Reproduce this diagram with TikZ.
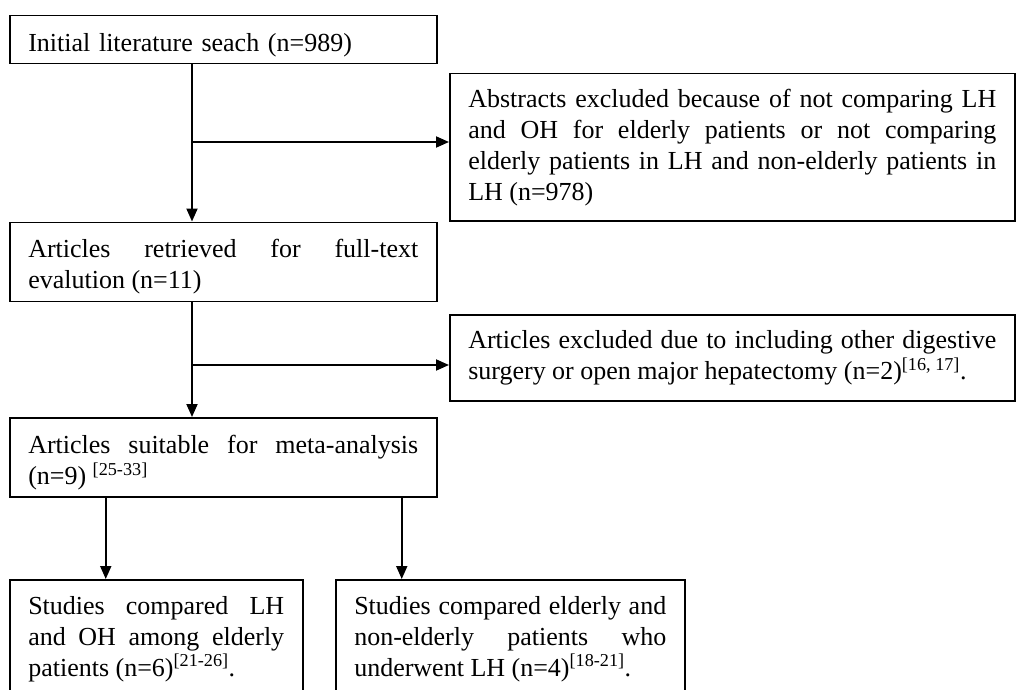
\documentclass[tikz,border=0pt]{standalone}
\usepackage{fontspec}
\setmainfont{Liberation Serif}
\usetikzlibrary{positioning, arrows.meta}
\hyphenpenalty=10000
\exhyphenpenalty=10000
\tolerance=9999

\begin{document}
\begin{tikzpicture}[
  x=1pt, y=-1pt,
  flowbox/.style={draw, line width=1.5pt, align=justify, inner xsep=18.5pt,
    inner ysep=4pt, font=\fontsize{26}{31}\selectfont},
  arr/.style={-{Triangle[length=13pt, width=11pt]}, line width=1.9pt},
]
  \useasboundingbox (0,0) rectangle (1022,690);
  \clip (0,0) rectangle (1022,690);

  \node[flowbox, anchor=north west, align=left, text width=390pt,
    minimum height=48pt, text height=29.7pt] (init) at (9,15)
    {Initial literature seach (n=989)};
  \node[flowbox, below=157pt of init, text width=390pt,
    minimum height=79pt, text height=27.7pt] (full)
    {Articles retrieved for full-text\linebreak evalution (n=11)};
  \node[flowbox, below=115pt of full, text width=390pt,
    minimum height=79pt, text height=29.7pt] (suit)
    {Articles suitable for meta-analysis\linebreak (n=9) \textsuperscript{[25-33]}};

  \node[flowbox, anchor=north west, text width=528pt,
    minimum height=147pt, text height=19.7pt] (abst) at (449,73)
    {Abstracts excluded because of not comparing LH\linebreak
     and OH for elderly patients or not comparing\linebreak
     elderly patients in LH and non-elderly patients in\linebreak
     LH (n=978)};
  \node[flowbox, anchor=north west, text width=528pt,
    minimum height=86pt] (excl) at (449,314)
    {Articles excluded due to including other digestive\linebreak
     surgery or open major hepatectomy (n=2)\textsuperscript{[16, 17]}.};

  % Studies
  \node[flowbox, anchor=north west, text width=256pt,
    minimum height=118pt] (lhoh) at (9,579)
    {Studies compared LH\linebreak and OH among elderly\linebreak
     patients (n=6)\textsuperscript{[21-26]}.};
  \node[flowbox, anchor=north west, text width=312pt,
    minimum height=118pt] (eld) at (335,579)
    {Studies compared elderly and\linebreak non-elderly patients who\linebreak
     underwent LH (n=4)\textsuperscript{[18-21]}.};

  \coordinate (j1) at (192,142);
  \coordinate (j2) at (192,365);
  \draw[arr] (init.south -| j1) -- (full.north -| j1);
  \draw[arr] (j1) -- (j1 -| abst.west);
  \draw[arr] (full.south -| j2) -- (suit.north -| j2);
  \draw[arr] (j2) -- (j2 -| excl.west);

  \coordinate (s1) at ([xshift=-117.5pt]suit.south);
  \coordinate (s2) at ([xshift=178.5pt]suit.south);
  \draw[arr] (s1) -- (s1 |- lhoh.north);
  \draw[arr] (s2) -- (s2 |- eld.north);
\end{tikzpicture}
\end{document}
